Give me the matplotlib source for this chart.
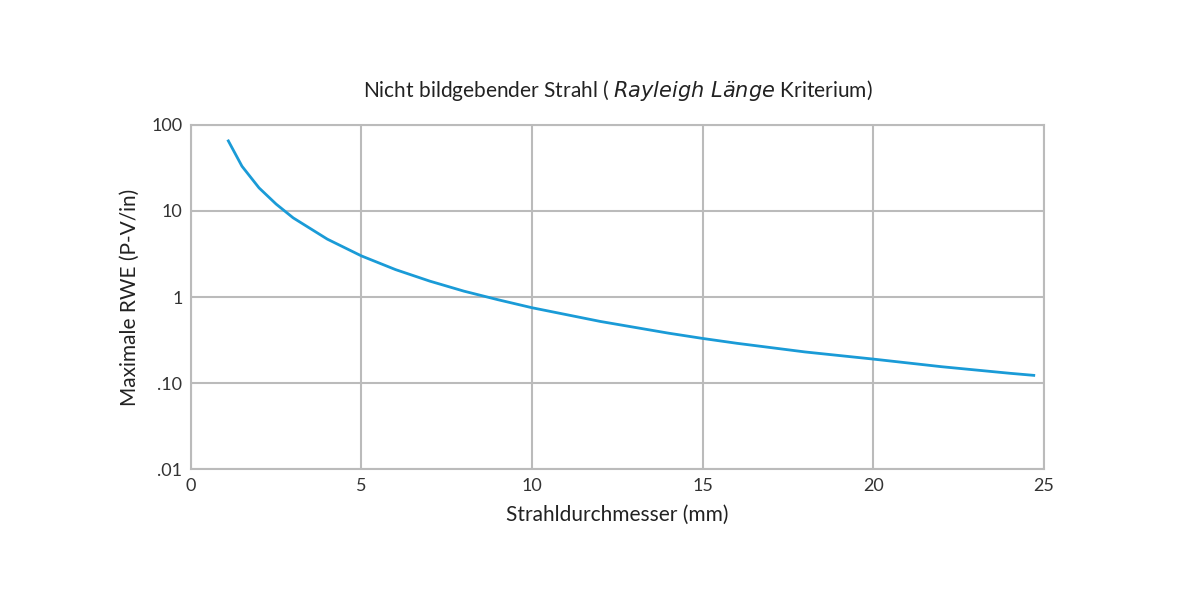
import matplotlib
matplotlib.use("Agg")
import matplotlib.pyplot as plt

diam = [1.1, 1.5, 2, 2.5, 3, 4, 5, 6, 7, 8, 9, 10, 12, 14, 15, 16, 18, 20, 22, 24, 24.7]
rwe = [65, 33, 18.5, 12, 8.3, 4.7, 3.0, 2.08, 1.53, 1.17, 0.93, 0.75, 0.52, 0.38, 0.33, 0.29, 0.23, 0.19, 0.155, 0.13, 0.123]
yticks = [0.01, 0.1, 1, 10, 100]
ylabels = [".01", ".10", "1", "10", "100"]
xticks = [0, 5, 10, 15, 20, 25]

plt.rcParams['font.family'] = ['Lato', 'DejaVu Sans']
fig = plt.figure(figsize=(12, 6), dpi=100)
ax = fig.add_axes([0.159, 0.218, 0.711, 0.574])
ax.plot(diam, rwe, color='#1a9bd7', lw=2)
ax.set_yscale('log')
ax.set_xlim(0, 25)
ax.set_ylim(0.01, 100)
ax.set_xticks(xticks)
ax.set_yticks(yticks)
ax.set_yticklabels(ylabels)
ax.minorticks_off()
ax.grid(True, color='#bbbbbb', lw=1.5)
for s in ax.spines.values():
    s.set_color('#bbbbbb'); s.set_linewidth(1.5)
ax.tick_params(length=0, labelsize=13, colors='#333333', pad=6)
ax.set_xlabel("Strahldurchmesser (mm)", fontsize=15, color='#222222', labelpad=8)
ax.set_ylabel("Maximale RWE (P-V/in)", fontsize=15, color='#222222', labelpad=8)
ax.set_title("Nicht bildgebender Strahl ( $\\it{Rayleigh\\ Länge}$ Kriterium)", fontsize=15, color='#222222', pad=20)
fig.savefig("out.png")
